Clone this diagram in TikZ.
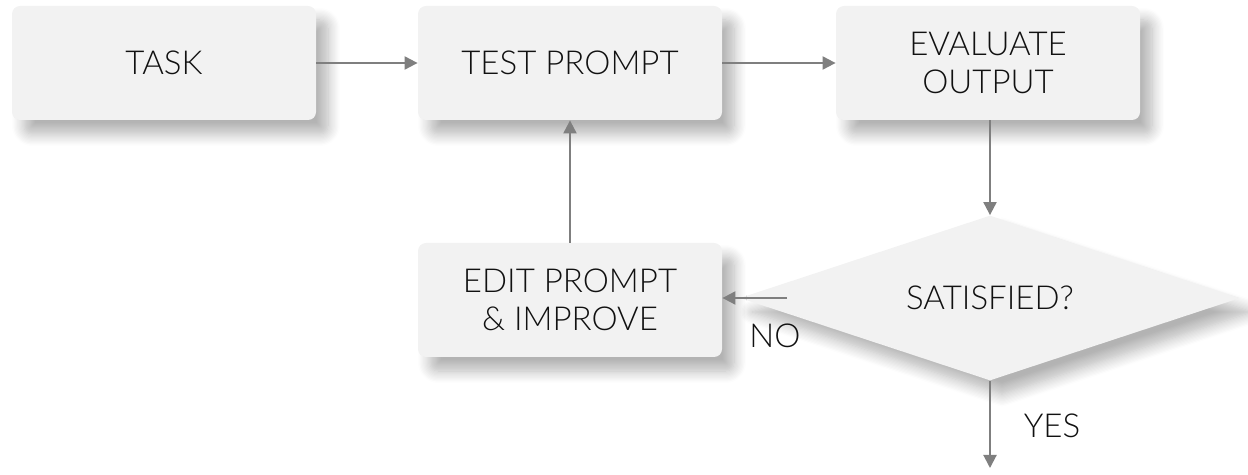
\documentclass[tikz,border=0pt]{standalone}
\usepackage{fontspec}
\setmainfont{Lato}[UprightFont=* Light]
\usetikzlibrary{shapes.geometric}
\usetikzlibrary{shadows.blur}
\usetikzlibrary{arrows.meta}
\definecolor{boxfill}{HTML}{F2F2F2}
\definecolor{linegray}{HTML}{7F7F7F}
\definecolor{textdark}{HTML}{111111}
\tikzset{
    softshadow/.style = {blur shadow={shadow xshift=6pt, shadow yshift=-7pt, shadow blur radius=6pt, shadow blur steps=10, shadow opacity=30}},
    stepnode/.style = {rectangle, rounded corners=4pt, fill=boxfill, minimum width=152pt, minimum height=57pt, align=center, text=textdark, font=\fontsize{16.5}{19}\selectfont, softshadow},
    decnode/.style = {diamond, aspect=3, fill=boxfill, minimum width=250pt, minimum height=82.5pt, inner sep=0pt, text=textdark, font=\fontsize{16.5}{19}\selectfont, softshadow},
    edgeg/.style = {-{Triangle[length=6.5pt,width=6.5pt]}, line width=1pt, linegray},
    lbl/.style = {text=textdark, font=\fontsize{16.5}{19}\selectfont}
}

\begin{document}
\begin{tikzpicture}[x=0.5pt, y=-0.5pt]
  \useasboundingbox (0,0) rectangle (1248,475);
  \node[stepnode] (task) at (164,63) {TASK};
  \node[stepnode] (test) at (570,63) {TEST PROMPT};
  \node[stepnode] (eval) at (988,63) {EVALUATE\\OUTPUT};
  \node[decnode] (sat) at (990,298) {SATISFIED?};
  \node[stepnode] (edit) at (570,300) {EDIT PROMPT\\\& IMPROVE};
  \coordinate (nostart) at (787,298);
  \coordinate (yesend) at (990,468);

  \draw[edgeg] (task) -- (test);
  \draw[edgeg] (test) -- (eval);
  \draw[edgeg] (eval.south -| sat.north) -- (sat.north);
  \draw[edgeg] (nostart) -- (edit.east |- nostart);
  \draw[edgeg] (edit) -- (test);
  \draw[edgeg] (sat.south) -- (yesend);

  \node[lbl] (no) at (775,336) {NO};
  \node[lbl] (yes) at (1052,426) {YES};
\end{tikzpicture}
\end{document}
